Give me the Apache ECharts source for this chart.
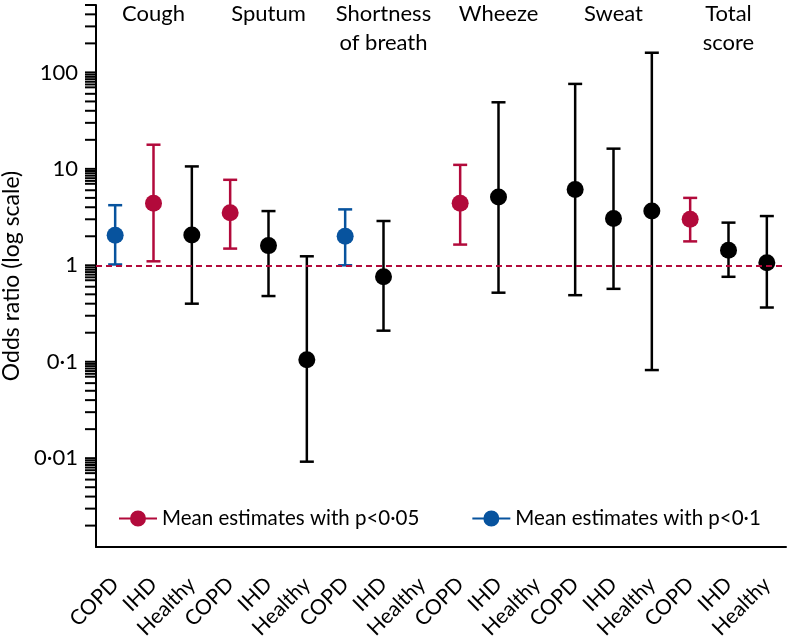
<!DOCTYPE html>
<html>
<head>
<meta charset="utf-8">
<script src="https://cdn.jsdelivr.net/npm/echarts@6/dist/echarts.min.js"></script>
<style>
  html, body { margin: 0; padding: 0; background: #fff; }
  #main { width: 788px; height: 640px; }
</style>
</head>
<body>
<div id="main"></div>
<script>
// symptom groups (3 categories each)
const groups = ['Cough', 'Sputum', 'Shortness\nof breath', 'Wheeze', 'Sweat', 'Total\nscore'];
const categories = [
  'COPD', 'IHD', 'Healthy', 'COPD', 'IHD', 'Healthy', 'COPD', 'IHD', 'Healthy',
  'COPD', 'IHD', 'Healthy', 'COPD', 'IHD', 'Healthy', 'COPD', 'IHD', 'Healthy'
];
// odds ratio, lower and upper 95% CI (null = not estimated)
const estimate = [2.05, 4.4, 2.06, 3.5, 1.6, 0.105, 2.0, 0.76, null, 4.4, 5.1, null, 6.1, 3.05, 3.65, 3.0, 1.43, 1.06];
const lower    = [1.02, 1.1, 0.40, 1.49, 0.48, 0.0092, 1.0, 0.21, null, 1.64, 0.52, null, 0.49, 0.57, 0.082, 1.77, 0.76, 0.365];
const upper    = [4.2, 17.8, 10.6, 7.7, 3.65, 1.24, 3.8, 2.88, null, 11.0, 49, null, 76, 16.2, 160, 5.0, 2.77, 3.24];
// significance level of each estimate
const signif   = ['p10', 'p05', '', 'p05', '', '', 'p10', '', '', 'p05', '', '', '', '', '', 'p05', '', ''];

const yLabels = [0.01, 0.1, 1, 10, 100];
const tickMult = [1, 2, 3, 4, 5, 6, 7, 7.5, 8, 8.5, 9, 9.5];
const decades = [0.001, 0.01, 0.1, 1, 10, 100];
const yMin = 0.0012, yMax = 500;

const RED = '#b20a3b';
const BLUE = '#07539e';
const FONT = 'Lato';

const sigName = { p05: 'Mean estimates with p<0·05', p10: 'Mean estimates with p<0·1' };
const sigColor = { p05: RED, p10: BLUE, '': '#000' };

let minorTicks = [];
decades.forEach(d => tickMult.forEach(m => {
  const v = +(d * m).toPrecision(3);
  if (v >= yMin && v <= yMax) minorTicks.push(v);
}));

function pointsFor(key) {
  return estimate.map((v, i) => (v != null && signif[i] === key) ? [i, v] : [i, '-']);
}

const barData = [];
estimate.forEach((v, i) => {
  if (v == null) return;
  barData.push({ value: [i, lower[i], upper[i]], itemStyle: { color: sigColor[signif[i]] } });
});

const legendIcon = 'path://M0,7L38,7L38,9L0,9Z M11,8A8,8,0,1,1,27,8A8,8,0,1,1,11,8Z';

const chart = echarts.init(document.getElementById('main'));

const option = {
  animation: false,
  textStyle: { fontFamily: FONT },
  grid: { left: 96, right: 2, top: 5, bottom: 93, containLabel: false, outerBoundsMode: 'none' },
  legend: {
    left: 119, top: 508, padding: 0,
    itemWidth: 38, itemHeight: 16, itemGap: 53,
    textStyle: { fontFamily: FONT, fontSize: 20.5, color: '#000' },
    data: [
      { name: sigName.p05, icon: legendIcon },
      { name: sigName.p10, icon: legendIcon }
    ]
  },
  xAxis: [{
    type: 'category',
    data: categories,
    boundaryGap: true,
    axisLine: { lineStyle: { color: '#000', width: 2 } },
    axisTick: { length: 11, lineStyle: { color: '#000', width: 2 }, interval: (idx) => idx % 3 === 0 },
    axisLabel: { interval: 0, rotate: 45, margin: 34, fontFamily: FONT, fontSize: 21, color: '#000' },
    splitLine: { show: false }
  }, {
    type: 'category',
    data: groups,
    position: 'top',
    boundaryGap: true,
    axisLine: { show: false },
    axisTick: { show: false },
    axisLabel: { inside: true, interval: 0, margin: -6, verticalAlign: 'top', lineHeight: 29,
      fontFamily: FONT, fontSize: 22, color: '#000' },
    splitLine: { show: false }
  }],
  yAxis: {
    type: 'log',
    logBase: 10,
    min: yMin, max: yMax,
    name: 'Odds ratio (log scale)',
    nameLocation: 'middle',
    nameGap: 69,
    nameTextStyle: { fontFamily: FONT, fontSize: 23, color: '#000' },
    axisLine: { show: true, lineStyle: { color: '#000', width: 2 } },
    axisTick: { show: false },
    splitLine: { show: false },
    axisLabel: {
      margin: 18, fontFamily: FONT, fontSize: 22, color: '#000',
      showMinLabel: false, showMaxLabel: false,
      formatter: (val) => {
        const v = +(+val).toPrecision(3);
        if (yLabels.indexOf(v) < 0) return '';
        return String(v).replace('.', '·');
      }
    }
  },
  series: [
    {
      // y-axis minor ticks drawn through the axis scale
      type: 'custom',
      silent: true,
      clip: false,
      data: minorTicks.map(v => [0, v]),
      renderItem: (params, api) => {
        const y = api.coord([0, api.value(1)])[1];
        const x0 = params.coordSys.x;
        return {
          type: 'line',
          shape: { x1: x0 - 11, y1: y, x2: x0, y2: y },
          style: { stroke: '#000', lineWidth: 2 }
        };
      }
    },
    {
      // confidence interval whiskers
      type: 'custom',
      silent: true,
      data: barData,
      z: 3,
      renderItem: (params, api) => {
        const i = api.value(0);
        const lo = api.coord([i, api.value(1)]);
        const hi = api.coord([i, api.value(2)]);
        const color = api.visual('color');
        const cap = 7;
        const st = { stroke: color, lineWidth: 2.5 };
        return {
          type: 'group',
          children: [
            { type: 'line', shape: { x1: lo[0], y1: lo[1], x2: hi[0], y2: hi[1] }, style: st },
            { type: 'line', shape: { x1: lo[0] - cap, y1: lo[1], x2: lo[0] + cap, y2: lo[1] }, style: st },
            { type: 'line', shape: { x1: hi[0] - cap, y1: hi[1], x2: hi[0] + cap, y2: hi[1] }, style: st }
          ]
        };
      }
    },
    {
      name: 'n.s.',
      type: 'scatter',
      symbolSize: 17,
      z: 4,
      itemStyle: { color: '#000', opacity: 1 },
      data: pointsFor(''),
      markLine: {
        silent: true,
        symbol: 'none',
        label: { show: false },
        lineStyle: { color: RED, width: 2, type: [6, 4] },
        data: [{ yAxis: 1 }]
      }
    },
    {
      name: sigName.p05,
      type: 'scatter',
      symbolSize: 17,
      z: 4,
      itemStyle: { color: RED, opacity: 1 },
      data: pointsFor('p05')
    },
    {
      name: sigName.p10,
      type: 'scatter',
      symbolSize: 17,
      z: 4,
      itemStyle: { color: BLUE, opacity: 1 },
      data: pointsFor('p10')
    }
  ]
};

chart.setOption(option);
</script>
</body>
</html>
